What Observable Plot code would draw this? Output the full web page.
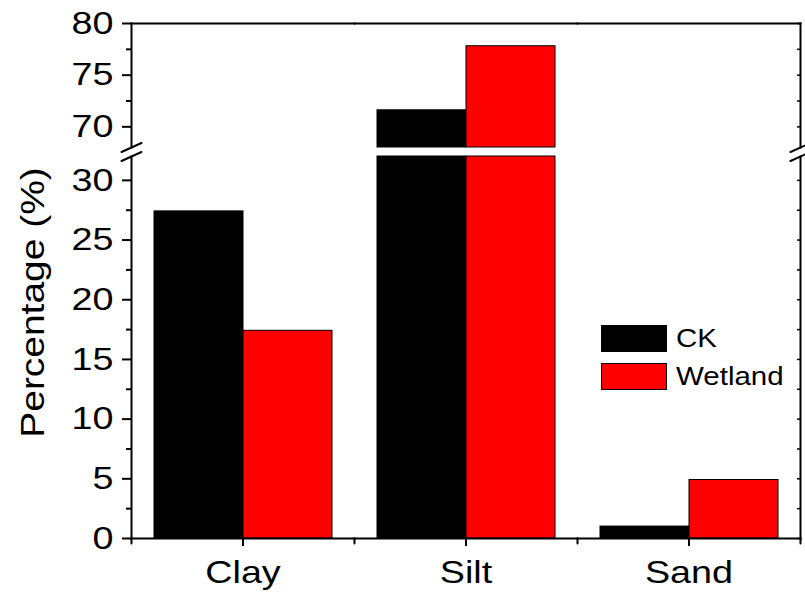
<!DOCTYPE html>
<html><head><meta charset="utf-8">
<script src="https://cdn.jsdelivr.net/npm/d3@7"></script>
<script src="https://cdn.jsdelivr.net/npm/@observablehq/plot@0.6"></script>
<style>
body{margin:0;background:#fff;}
#chart{position:relative;width:805px;height:594px;overflow:hidden;font-family:"Liberation Sans",Arial,sans-serif;color:#000;}
#chart svg{position:absolute;left:0;overflow:visible;}
</style></head><body><div id="chart"></div>
<script>
const categories = ["Clay", "Silt", "Sand"];
const series = ["CK", "Wetland"];
const ckValues = [27.4, 71.6, 1.0];
const wetlandValues = [17.4, 77.8, 4.9];
const seriesColors = ["#000000", "#ff0000"];
const lowerDomain = [0, 32];
const upperDomain = [68, 80];
const lowerTicks = [0, 5, 10, 15, 20, 25, 30];
const lowerMinorTicks = [2.5, 7.5, 12.5, 17.5, 22.5, 27.5];
const upperTicks = [70, 75, 80];
const upperMinorTicks = [72.5, 77.5];
const yLabel = "Percentage (%)";

const rows = [];
categories.forEach((c, i) => {
  rows.push({category: c, series: series[0], value: ckValues[i]});
  rows.push({category: c, series: series[1], value: wetlandValues[i]});
});

const FONT = "Liberation Sans, Arial, sans-serif";
const STRETCH = 1.18;
const slash = {draw(ctx) { ctx.moveTo(-10, 4.5); ctx.lineTo(10, -4.5); }};
const tickDown = {draw(ctx, l) { ctx.moveTo(0, 0); ctx.lineTo(0, l); }};

function base(height, marginTop, marginBottom, domain, fxAxis) {
  return {
    width: 805, height, marginLeft: 130, marginRight: 5, marginTop, marginBottom,
    style: {fontFamily: FONT, fontSize: "32px", background: "transparent", overflow: "visible", color: "#000"},
    fx: fxAxis ? {domain: categories, padding: 0} : {domain: categories, padding: 0, axis: null},
    x: {domain: series, paddingInner: 0, paddingOuter: 0.245, axis: null},
    y: {domain, clamp: true},
    color: {domain: series, range: seriesColors}
  };
}

function stretch(svg) {
  d3.select(svg).selectAll("text").each(function() {
    const t = this.getAttribute("transform") || "";
    this.setAttribute("transform", t + ` scale(${STRETCH},1)`);
  });
}

const upper = Plot.plot({
  ...base(147, 23, 0, upperDomain, false),
  marks: [
    Plot.barY(rows, {fx: "category", x: "series", y: "value", fill: "series", stroke: "#000", strokeWidth: 1, filter: d => d.value > upperDomain[0]}),
    Plot.frame({anchor: "top", strokeWidth: 2}),
    Plot.frame({anchor: "left", strokeWidth: 2, facetAnchor: "left"}),
    Plot.frame({anchor: "right", strokeWidth: 2, facetAnchor: "right"}),
    Plot.axisY(upperTicks, {tickSize: 9, tickPadding: 9, strokeWidth: 2, label: null, fontSize: 32}),
    Plot.axisY(upperMinorTicks, {tickSize: 5, strokeWidth: 2, tickFormat: () => "", label: null}),
    Plot.axisY(upperTicks.concat(upperMinorTicks), {anchor: "right", tickSize: 4, dx: -4, strokeWidth: 1.5, tickFormat: () => "", label: null}),
    Plot.vector([0], {frameAnchor: "bottom-left", anchor: "start", shape: slash, strokeWidth: 2, facetAnchor: "left"}),
    Plot.vector([0], {frameAnchor: "bottom-right", anchor: "start", shape: slash, strokeWidth: 2, facetAnchor: "right"})
  ]
});

const lower = Plot.plot({
  ...base(438, 0, 56, lowerDomain, true),
  marks: [
    Plot.barY(rows, {fx: "category", x: "series", y: "value", fill: "series", stroke: "#000", strokeWidth: 1}),
    Plot.frame({anchor: "bottom", strokeWidth: 2}),
    Plot.frame({anchor: "left", strokeWidth: 2, facetAnchor: "left"}),
    Plot.frame({anchor: "right", strokeWidth: 2, facetAnchor: "right"}),
    Plot.axisY(lowerTicks, {tickSize: 9, tickPadding: 9, strokeWidth: 2, label: null, fontSize: 32}),
    Plot.axisY(lowerMinorTicks, {tickSize: 5, strokeWidth: 2, tickFormat: () => "", label: null}),
    Plot.axisY(lowerTicks.concat(lowerMinorTicks), {anchor: "right", tickSize: 4, dx: -4, strokeWidth: 1.5, tickFormat: () => "", label: null}),
    Plot.axisFx({anchor: "bottom", tickSize: 8, tickPadding: 14, strokeWidth: 2, label: null, fontSize: 32}),
    Plot.vector([0], {frameAnchor: "bottom-left", anchor: "start", shape: tickDown, length: 5, strokeWidth: 2}),
    Plot.vector([0], {frameAnchor: "bottom-right", anchor: "start", shape: tickDown, length: 5, strokeWidth: 2, facetAnchor: "right"}),
    Plot.vector([0], {frameAnchor: "top-left", anchor: "start", shape: slash, strokeWidth: 2, facetAnchor: "left"}),
    Plot.vector([0], {frameAnchor: "top-right", anchor: "start", shape: slash, strokeWidth: 2, facetAnchor: "right"}),
    Plot.text([yLabel], {text: d => d, frameAnchor: "left", textAnchor: "middle", lineAnchor: "middle", rotate: -90, dx: -98, dy: -45, fontSize: 33, facetAnchor: "left"})
  ]
});

stretch(upper);
stretch(lower);
upper.style.top = "0px";
lower.style.top = "156px";
const chart = document.getElementById("chart");
chart.appendChild(upper);
chart.appendChild(lower);

const legend = d3.select("#chart").append("div")
  .style("position", "absolute").style("left", "601px").style("top", "325px");
series.forEach((s, i) => {
  const row = legend.append("div").style("display", "flex").style("align-items", "center")
    .style("height", "27px").style("margin-bottom", i === 0 ? "11px" : "0");
  row.append("div").style("width", "66px").style("height", "27px").style("background", seriesColors[i])
    .style("border", "1px solid #000").style("box-sizing", "border-box");
  row.append("span").text(s).style("margin-left", "9px").style("font-size", "25px")
    .style("display", "inline-block").style("transform", `scaleX(${STRETCH})`).style("transform-origin", "left center")
    .style("white-space", "nowrap");
});
</script></body></html>
